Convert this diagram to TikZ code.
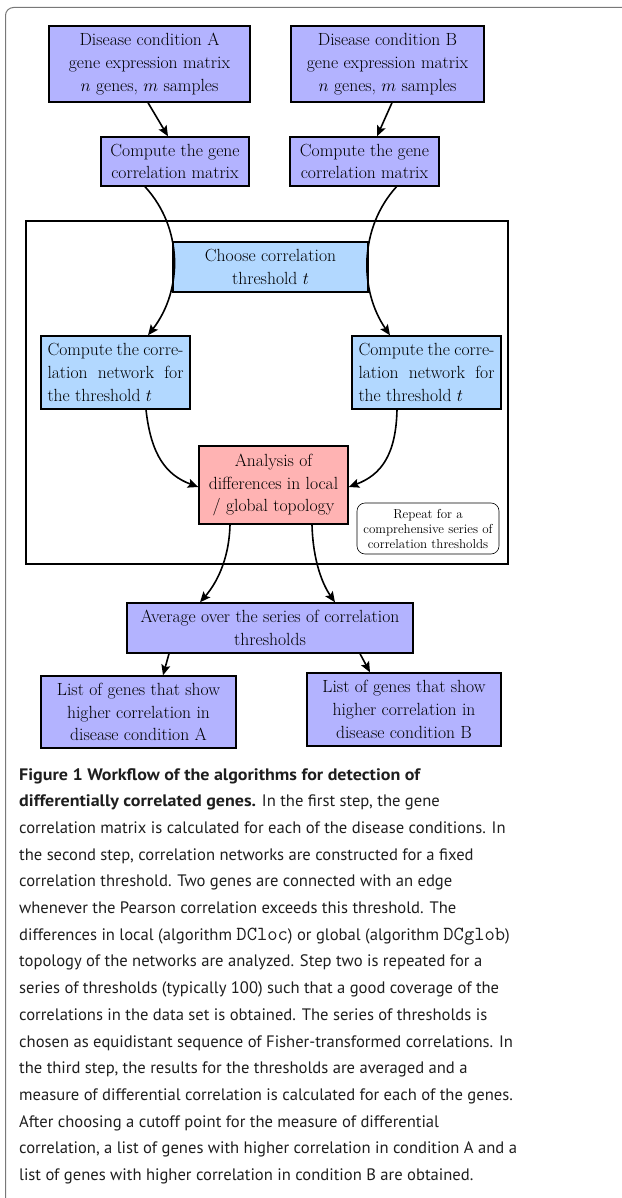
\documentclass[tikz,border=0pt]{standalone}
\usepackage{fontspec}
\newfontfamily\capfont{PT Sans}[BoldFeatures={FakeStretch=1.085}]
\newcommand\capmono{\ttfamily\fontsize{20}{26.7}\selectfont\addfontfeature{FakeStretch=1.22}}
\usetikzlibrary{arrows.meta,calc}
\definecolor{boxblue}{RGB}{179,179,255}
\definecolor{lightblue}{RGB}{178,216,255}
\definecolor{boxpink}{RGB}{255,179,179}
\definecolor{framegray}{RGB}{120,120,120}
\definecolor{captext}{RGB}{30,30,30}
\newcommand\bxfont{\fontsize{17.6}{22.7}\selectfont}
\newcommand\smallbxfont{\fontsize{13}{15}\selectfont}
\tikzset{
  box/.style={draw=black, line width=1.4pt, inner sep=0pt, align=center, font=\bxfont},
  bluebox/.style={box, fill=boxblue},
  lbbox/.style={box, fill=lightblue},
  pinkbox/.style={box, fill=boxpink},
  arr/.style={-{Stealth[length=10.5pt,width=9pt,inset=2pt]}, line width=1.6pt},
}
\begin{document}
\begin{tikzpicture}[x=1pt,y=-1pt]
\useasboundingbox (0,0) rectangle (621,1198);
% outer figure frame
\draw[framegray, line width=1pt, rounded corners=8pt] (5.5,1210) -- (5.5,7.5) -- (640,7.5);

% repeat frame
\node[draw=black, line width=1.6pt, minimum width=482pt, minimum height=343pt, inner sep=0pt] (loop) at (267,392.5) {};

\node[bluebox, minimum width=201pt, minimum height=76pt] (A1) at (149.5,64)
  {Disease condition A\\ gene expression matrix\\ $n$ genes, $m$ samples};
\node[bluebox, minimum width=193pt, minimum height=76pt] (B1) at (387.5,64)
  {Disease condition B\\ gene expression matrix\\ $n$ genes, $m$ samples};
\node[bluebox, minimum width=148pt, minimum height=49pt] (A2) at (175,161.5)
  {Compute the gene\\ correlation matrix};
\node[bluebox, minimum width=149pt, minimum height=49pt] (B2) at (364.5,161.5)
  {Compute the gene\\ correlation matrix};
\node[lbbox, minimum width=195pt, minimum height=50pt] (T) at (270.5,267)
  {Choose correlation\\ threshold $t$};
\node[lbbox, minimum width=149pt, minimum height=73pt, text width=136pt, align=justify] (NL) at (115.5,372.5)
  {Compute the corre-\linebreak lation network for\linebreak the threshold $t$};
\node[lbbox, minimum width=149pt, minimum height=73pt, text width=136pt, align=justify] (NR) at (426.5,372.5)
  {Compute the corre-\linebreak lation network for\linebreak the threshold $t$};
\node[pinkbox, minimum width=149pt, minimum height=78pt] (AN) at (273.5,485)
  {Analysis of\\ differences in local\\ / global topology};
\node[draw=black, line width=0.6pt, rounded corners=8pt, minimum width=142pt, minimum height=51pt, inner sep=0pt, align=center, font=\smallbxfont] (R) at (428,528.5)
  {Repeat for a\\ comprehensive series of\\ correlation thresholds};
\node[bluebox, minimum width=286pt, minimum height=50pt] (AV) at (270,628)
  {Average over the series of correlation\\ thresholds};
\node[bluebox, minimum width=195pt, minimum height=72pt] (LA) at (138.5,712)
  {List of genes that show\\ higher correlation in\\ disease condition A};
\node[bluebox, minimum width=194pt, minimum height=73pt] (LB) at (404,709.5)
  {List of genes that show\\ higher correlation in\\ disease condition B};

% connectors
\draw[arr] ($(A1.south)+(-1.5,0)$) -- ($(A2.north)+(-7,0)$);
\draw[arr] ($(B1.south)+(4.5,0)$) -- ($(B2.north)+(12.5,0)$);
\draw[arr] ($(A2.south)+(-30,0)$) .. controls (183,228) and (183,290) .. ($(NL.north)+(32.5,0)$);
\draw[arr] ($(B2.south)+(32,0)$) .. controls (359,228) and (359,290) .. ($(NR.north)+(-36.5,0)$);
\draw[arr] ($(NL.south)+(30.5,0)$) .. controls (151,455) and (166,475) .. ($(AN.west)+(0,2)$);
\draw[arr] ($(NR.south)+(-29.5,0)$) .. controls (396,455) and (381,475) .. ($(AN.east)+(0,2)$);
\draw[arr] ($(AN.south)+(-43.5,0)$) .. controls (229,562) and (215,585) .. ($(AV.north)+(-70,0)$);
\draw[arr] ($(AN.south)+(38.5,0)$) .. controls (313,562) and (323,585) .. ($(AV.north)+(65,0)$);
\draw[arr] ($(AV.south)+(-101,0)$) -- ($(LA.north)+(24.5,0)$);
\draw[arr] ($(AV.south)+(90,0)$) -- ($(LB.north)+(-34,0)$);

% caption
\node[anchor=north west, inner sep=0pt, align=left, text=captext,
      font=\capfont\fontsize{16.6}{26.7}\selectfont] (cap) at (19,768)
{\textbf{Figure 1 Workflow of the algorithms for detection of}\\
\textbf{differentially correlated genes.} In the first step, the gene\\
correlation matrix is calculated for each of the disease conditions. In\\
the second step, correlation networks are constructed for a fixed\\
correlation threshold. Two genes are connected with an edge\\
whenever the Pearson correlation exceeds this threshold. The\\
differences in local (algorithm {\capmono DCloc}) or global (algorithm {\capmono DCglob})\\
topology of the networks are analyzed. Step two is repeated for a\\
series of thresholds (typically 100) such that a good coverage of the\\
correlations in the data set is obtained. The series of thresholds is\\
chosen as equidistant sequence of Fisher-transformed correlations. In\\
the third step, the results for the thresholds are averaged and a\\
measure of differential correlation is calculated for each of the genes.\\
After choosing a cutoff point for the measure of differential\\
correlation, a list of genes with higher correlation in condition A and a\\
list of genes with higher correlation in condition B are obtained.};
\end{tikzpicture}
\end{document}
